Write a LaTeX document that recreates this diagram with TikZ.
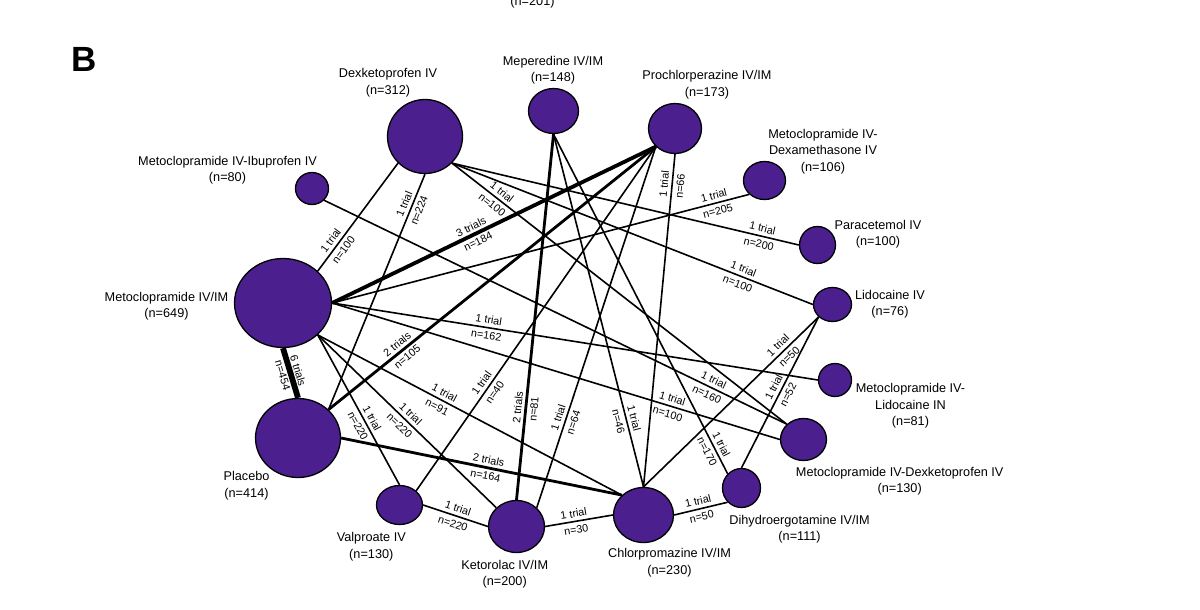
\documentclass[tikz,border=0pt]{standalone}
\usepackage{fontspec}
\setmainfont{Liberation Sans}
\usetikzlibrary{shapes.geometric,backgrounds}
\definecolor{drugfill}{HTML}{4B1F8E}
\begin{document}
\begin{tikzpicture}[x=1pt,y=-1pt,
  drug/.style={ellipse, draw=black, line width=1.3pt, fill=drugfill, inner sep=0pt},
  lab/.style={align=center, font=\fontsize{12.7}{16.5}\selectfont, inner sep=0pt},
  elab/.style={sloped, align=center, font=\fontsize{10.8}{16}\selectfont, inner sep=0pt},
  tone/.style={line width=1.6pt},
  ttwo/.style={line width=2.8pt},
  tthree/.style={line width=3.8pt},
  tsix/.style={line width=5.8pt}]
\useasboundingbox (0,0) rectangle (1200,610);

% drug nodes
\node[drug, minimum width=75pt, minimum height=74pt] (dexk) at (425,136.5) {};
\node[drug, minimum width=50pt, minimum height=45pt] (mepe) at (553.5,111) {};
\node[drug, minimum width=53pt, minimum height=50pt] (proch) at (675,128.5) {};
\node[drug, minimum width=42pt, minimum height=38pt] (dexa) at (764.5,180.5) {};
\node[drug, minimum width=36pt, minimum height=37pt] (para) at (817.5,245) {};
\node[drug, minimum width=38pt, minimum height=34pt] (lido) at (832.5,304.5) {};
\node[drug, minimum width=33pt, minimum height=33pt] (mlido) at (835,380) {};
\node[drug, minimum width=46pt, minimum height=42pt] (mdexk) at (803.5,439.5) {};
\node[drug, minimum width=38pt, minimum height=39pt] (dhe) at (741.5,488) {};
\node[drug, minimum width=60pt, minimum height=55pt] (chlor) at (643.5,515) {};
\node[drug, minimum width=56pt, minimum height=52pt] (keto) at (516.5,526.5) {};
\node[drug, minimum width=46pt, minimum height=39pt] (valp) at (399.5,505) {};
\node[drug, minimum width=85pt, minimum height=79pt] (plac) at (298,438) {};
\node[drug, minimum width=97pt, minimum height=89pt] (meto) at (283,303) {};
\node[drug, minimum width=33pt, minimum height=32pt] (mibu) at (312,188.5) {};

% labels
\node[lab] (dexkl) at (388,82.5) {Dexketoprofen IV\\(n=312)};
\node[lab] (mepel) at (553,70) {Meperedine IV/IM\\(n=148)};
\node[lab] (prochl) at (707,84.5) {Prochlorperazine IV/IM\\(n=173)};
\node[lab] (dexal) at (823,151.7) {Metoclopramide IV-\\Dexamethasone IV\\(n=106)};
\node[lab] (paral) at (878,234) {Paracetemol IV\\(n=100)};
\node[lab] (lidol) at (890,304) {Lidocaine IV\\(n=76)};
\node[lab] (mlidol) at (910.5,405.8) {Metoclopramide IV-\\Lidocaine IN\\(n=81)};
\node[lab] (mdexkl) at (899.7,481) {Metoclopramide IV-Dexketoprofen IV\\(n=130)};
\node[lab] (dhel) at (799.6,529) {Dihydroergotamine IV/IM\\(n=111)};
\node[lab] (chlorl) at (669.5,562.5) {Chlorpromazine IV/IM\\(n=230)};
\node[lab] (ketol) at (504.7,574) {Ketorolac IV/IM\\(n=200)};
\node[lab] (valpl) at (371.3,546.7) {Valproate IV\\(n=130)};
\node[lab] (placl) at (246.5,485.5) {Placebo\\(n=414)};
\node[lab] (metol) at (166.5,306) {Metoclopramide IV/IM\\(n=649)};
\node[lab] (mibul) at (227.5,170) {Metoclopramide IV-Ibuprofen IV\\(n=80)};
\node[font=\fontsize{35}{35}\selectfont\bfseries, inner sep=0pt] (panel) at (84,59.5) {B};
\node[font=\fontsize{12.7}{16.5}\selectfont, inner sep=0pt, anchor=base] (topcut) at (532.5,6) {(n=201)};

% connectors
\begin{pgfonlayer}{background}
\draw[tsix] (meto.south) -- node[elab, pos=0.5] {6 trials\\n=454} (plac.north);
\draw[tthree] (meto.east) -- node[elab, pos=0.44] {3 trials\\n=184} (proch.south west);
\draw[ttwo] (plac.north east) -- node[elab, pos=0.225] {2 trials\\n=105} (proch.south west);
\draw[ttwo] (plac.east) -- node[elab, pos=0.52] {2 trials\\n=164} (chlor.north west);
\draw[ttwo] (mepe.south) -- node[elab, pos=0.75] {2 trials\\n=81} (keto.north);
\draw[tone] (meto.north east) -- node[elab, pos=0.24] {1 trial\\n=100} (dexk.south west);
\draw[tone] (dexk.south) -- node[elab, pos=0.14] {1 trial\\n=224} (plac.north east);
\draw[tone] (dexk.south east) -- node[elab, pos=0.89] {1 trial\\n=200} (para.west);
\draw[tone] (dexk.south east) -- node[elab, pos=0.8] {1 trial\\n=100} (lido.west);
\draw[tone] (dexk.south east) -- node[elab, pos=0.135] {1 trial\\n=100} (mdexk.north west);
\draw[tone] (mibu.south east) -- node[elab, pos=0.835] {1 trial\\n=160} (mdexk.north west);
\draw[tone] (meto.east) -- node[elab, pos=0.755] {1 trial\\n=100} (mdexk.west);
\draw[tone] (meto.east) -- node[elab, pos=0.32] {1 trial\\n=162} (mlido.west);
\draw[tone] (meto.east) -- node[elab, pos=0.92] {1 trial\\n=205} (dexa.south west);
\draw[tone] (meto.south east) -- node[elab, pos=0.58] {1 trial\\n=220} (valp.north);
\draw[tone] (meto.south east) -- node[elab, pos=0.49] {1 trial\\n=220} (keto.north west);
\draw[tone] (meto.south east) -- node[elab, pos=0.405] {1 trial\\n=91} (chlor.north west);
\draw[tone] (proch.south west) -- node[elab, pos=0.7] {1 trial\\n=40} (valp.north east);
\draw[tone] (proch.south west) -- node[elab, pos=0.757] {1 trial\\n=64} (keto.north east);
\draw[tone] (proch.south) -- node[elab, pos=0.093] {1 trial\\n=66} (chlor.north);
\draw[tone] (mepe.south) -- node[elab, pos=0.81] {1 trial\\n=46} (chlor.north);
\draw[tone] (mepe.south) -- node[elab, pos=0.924] {1 trial\\n=170} (dhe.north west);
\draw[tone] (lido.south west) -- node[elab, pos=0.2] {1 trial\\n=50} (chlor.north);
\draw[tone] (lido.south west) -- node[elab, pos=0.49] {1 trial\\n=52} (dhe.north);
\draw[tone] (chlor.east) -- node[elab, pos=0.48] {1 trial\\n=50} (dhe.south west);
\draw[tone] (keto.east) -- node[elab, pos=0.44] {1 trial\\n=30} (chlor.west);
\draw[tone] (valp.east) -- node[elab, pos=0.5] {1 trial\\n=220} (keto.west);
\end{pgfonlayer}
\end{tikzpicture}
\end{document}
